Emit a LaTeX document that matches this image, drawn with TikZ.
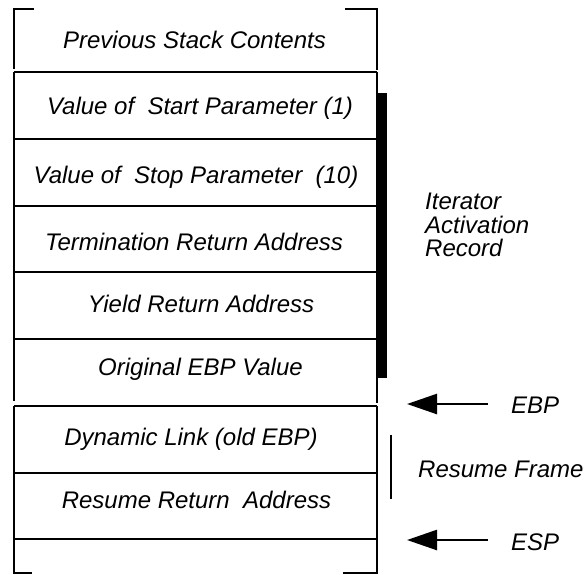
\documentclass[tikz,border=0pt]{standalone}
\usepackage{fontspec}
\setmainfont{Liberation Sans}
\usetikzlibrary{arrows.meta}
\begin{document}
\begin{tikzpicture}[x=1pt,y=-1pt,
  rule/.style={line width=2.5pt},
  lbl/.style={inner sep=0pt,anchor=base,font=\fontsize{24}{28}\selectfont\itshape},
  side/.style={inner sep=0pt,anchor=base west,font=\fontsize{24}{28}\selectfont\itshape},
  ptr/.style={line width=2.5pt,-{Triangle[length=30pt,width=20pt]}}]
\useasboundingbox (0,0) rectangle (586,574);
% stack frame outline
\draw[rule] (34,9) -- (14,9) -- (14,69);
\draw[rule] (345,9) -- (377,9) -- (377,70);
\draw[rule] (14,72) -- (14,401);
\draw[rule] (377,72) -- (377,403);
\draw[rule] (14,406) -- (14,573) -- (32,573);
\draw[rule] (377,406) -- (377,573) -- (343,573);
\foreach \yy in {72,139,206,272,339,406,473,539}
  \draw[rule] (14,\yy) -- (377,\yy);
% activation record bar
\fill (377,93) rectangle (387,378);
% cell texts
\node[lbl] (prev) at (194.5,48) {Previous Stack Contents};
\node[lbl] (start) at (200,114) {Value of~ Start Parameter (1)};
\node[lbl] (stop) at (196,183) {Value of~ Stop Parameter~ (10)};
\node[lbl] (term) at (194,250) {Termination Return Address};
\node[lbl] (yield) at (201,312) {Yield Return Address};
\node[lbl] (orig) at (200.5,375) {Original EBP Value};
\node[lbl] (dyn) at (191,445) {Dynamic Link (old EBP)};
\node[lbl] (res) at (196.5,508) {Resume Return~ Address};
% side labels
\node[side,align=left,anchor=north west,font=\fontsize{24}{23.5}\selectfont\itshape] (iar) at (425,193) {Iterator\\Activation\\Record};
\node[side] (ebp) at (511,413) {EBP};
\node[side] (esp) at (511,550) {ESP};
\node[side] (rf) at (418,477) {Resume Frame};
% resume frame bracket
\draw[rule] (391,435) -- (391,499);
% pointers
\coordinate (ebpTail) at (488,404);
\coordinate (ebpTip) at (407,404);
\coordinate (espTail) at (488,540);
\coordinate (espTip) at (407,540);
\draw[ptr] (ebpTail) -- (ebpTip);
\draw[ptr] (espTail) -- (espTip);
\end{tikzpicture}
\end{document}
